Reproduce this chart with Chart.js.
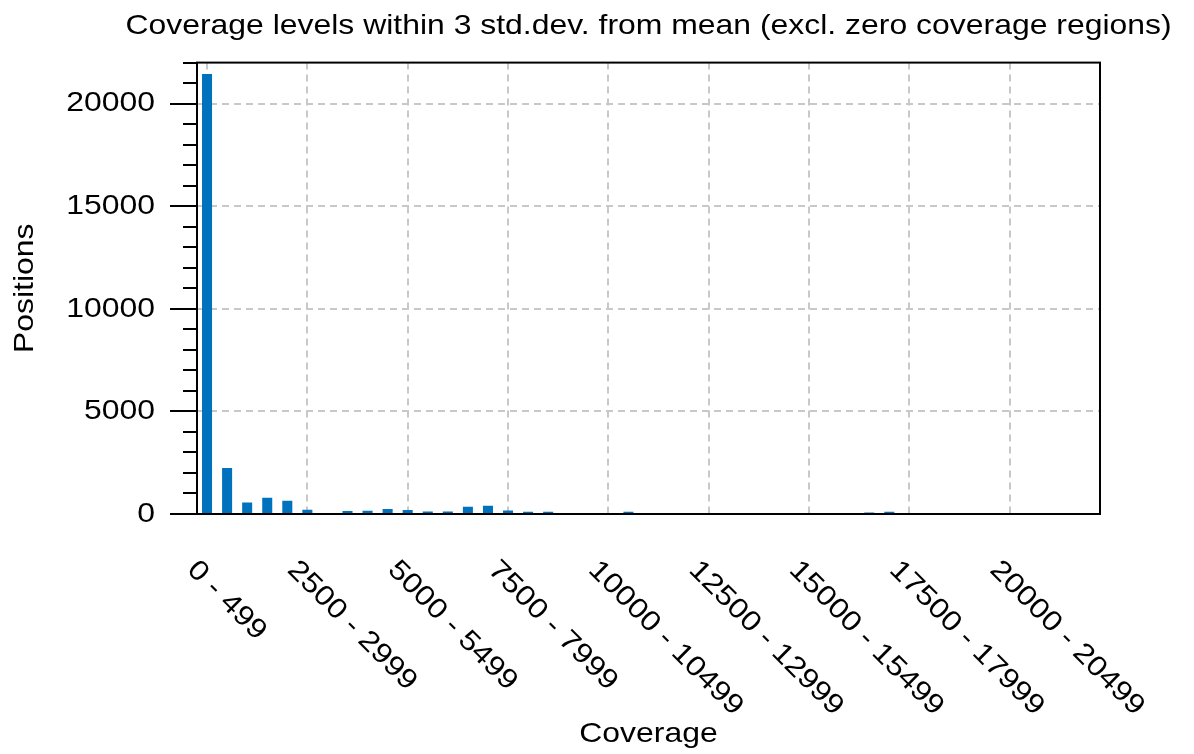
<!DOCTYPE html>
<html>
<head>
<meta charset="utf-8">
<script src="https://cdn.jsdelivr.net/npm/chart.js@4/dist/chart.umd.min.js"></script>
<style>
  body { margin: 0; background: #fff; }
  canvas { display: block; }
</style>
</head>
<body>
<canvas id="chart" width="1194" height="754"></canvas>
<script>
// Coverage bins (500 wide)
const categories = [
    '0 - 499', '500 - 999', '1000 - 1499', '1500 - 1999', '2000 - 2499',
    '2500 - 2999', '3000 - 3499', '3500 - 3999', '4000 - 4499', '4500 - 4999',
    '5000 - 5499', '5500 - 5999', '6000 - 6499', '6500 - 6999', '7000 - 7499',
    '7500 - 7999', '8000 - 8499', '8500 - 8999', '9000 - 9499', '9500 - 9999',
    '10000 - 10499', '10500 - 10999', '11000 - 11499', '11500 - 11999', '12000 - 12499',
    '12500 - 12999', '13000 - 13499', '13500 - 13999', '14000 - 14499', '14500 - 14999',
    '15000 - 15499', '15500 - 15999', '16000 - 16499', '16500 - 16999', '17000 - 17499',
    '17500 - 17999', '18000 - 18499', '18500 - 18999', '19000 - 19499', '19500 - 19999',
    '20000 - 20499', '20500 - 20999', '21000 - 21499', '21500 - 21999', '22000 - 22499'
];

// Number of positions per bin
const positions = [
    21450, 2240, 565, 795, 650,
    210, 0, 145, 160, 245,
    195, 125, 125, 355, 405,
    175, 115, 110, 0, 0,
    0, 110, 0, 0, 0,
    0, 0, 0, 0, 0,
    0, 0, 0, 70, 110,
    0, 0, 0, 0, 0,
    0, 0, 0, 0, 0
];

// y axis ticks
const yTicks = [0, 5000, 10000, 15000, 20000];
const yMinorTicks = [1000, 2000, 3000, 4000, 6000, 7000, 8000, 9000, 11000, 12000,
    13000, 14000, 16000, 17000, 18000, 19000, 21000, 22000];
const yMax = 22000;
const labelEvery = 5;

const FONT = 'Arial, "Liberation Sans", Helvetica, sans-serif';
const FONT_SIZE = 28;
const STRETCH = 1.14; // the original text is drawn wide

// draw all text a bit wider than the font normally is
function stretchText(ctx) {
    const fill = ctx.fillText;
    const measure = ctx.measureText;
    ctx.fillText = function (text, x, y) {
        this.save();
        this.translate(x, y);
        this.scale(STRETCH, 1);
        fill.call(this, text, 0, 0);
        this.restore();
    };
    ctx.measureText = function (text) {
        const m = measure.call(this, text);
        return {
            width: m.width * STRETCH,
            actualBoundingBoxAscent: m.actualBoundingBoxAscent,
            actualBoundingBoxDescent: m.actualBoundingBoxDescent
        };
    };
}

// extra drawing: minor ticks, box frame, rotated x labels
const extras = {
    id: 'extras',
    afterDraw(chart) {
        const { ctx, chartArea, scales: { x, y } } = chart;
        ctx.save();
        ctx.strokeStyle = '#000';
        ctx.lineWidth = 2;
        yMinorTicks.forEach(v => {
            const py = Math.round(y.getPixelForValue(v));
            ctx.beginPath();
            ctx.moveTo(chartArea.left - 14, py);
            ctx.lineTo(chartArea.left, py);
            ctx.stroke();
        });
        ctx.strokeRect(chartArea.left, chartArea.top,
            chartArea.right - chartArea.left, chartArea.bottom - chartArea.top);

        ctx.font = FONT_SIZE + 'px ' + FONT;
        ctx.fillStyle = '#000';
        ctx.textAlign = 'left';
        ctx.textBaseline = 'alphabetic';
        categories.forEach((label, i) => {
            if (i % labelEvery !== 0) return;
            const px = x.getPixelForTick(i);
            ctx.save();
            ctx.translate(px - 21, chartArea.bottom + 57);
            ctx.rotate(Math.PI / 4);
            ctx.fillText(label, 0, 0);
            ctx.restore();
        });
        ctx.restore();
    }
};

Chart.defaults.color = '#000';
Chart.defaults.font.family = FONT;
Chart.defaults.font.size = FONT_SIZE;

const ctx = document.getElementById('chart').getContext('2d');
stretchText(ctx);

const chart = new Chart(ctx, {
    type: 'bar',
    data: {
        labels: categories,
        datasets: [{
            data: positions,
            backgroundColor: '#0072BD',
            borderWidth: 0,
            categoryPercentage: 1.0,
            barPercentage: 0.5
        }]
    },
    options: {
        responsive: false,
        animation: false,
        layout: { padding: { left: 0, right: 94, top: 0, bottom: 0 } },
        plugins: {
            legend: { display: false },
            tooltip: { enabled: false },
            title: {
                display: true,
                fullSize: false,
                text: 'Coverage levels within 3 std.dev. from mean (excl. zero coverage regions)',
                font: { size: FONT_SIZE, weight: 'normal' },
                color: '#000',
                padding: { top: 9, bottom: 20 }
            }
        },
        scales: {
            x: {
                offset: true,
                afterFit(scale) { scale.height = 240; },
                ticks: { display: false, autoSkip: false },
                grid: {
                    offset: false,
                    drawTicks: false,
                    lineWidth: 2,
                    color: (c) => c.index % labelEvery === 0 ? '#c8c8c8' : 'rgba(0,0,0,0)'
                },
                border: { display: true, color: '#000', width: 2, dash: [7, 5] },
                title: {
                    display: true,
                    text: 'Coverage',
                    font: { size: FONT_SIZE },
                    padding: { top: 0, bottom: 3 }
                }
            },
            y: {
                min: 0,
                max: yMax,
                afterFit(scale) { scale.width = 197; },
                afterBuildTicks(scale) { scale.ticks = yTicks.map(v => ({ value: v })); },
                ticks: {
                    padding: 15,
                    callback: (v) => String(v)
                },
                grid: {
                    lineWidth: 2,
                    color: (c) => c.tick && c.tick.value === 0 ? 'rgba(0,0,0,0)' : '#c8c8c8',
                    tickLength: 27,
                    tickColor: '#000',
                    tickWidth: 2,
                    tickBorderDash: []
                },
                border: { display: true, color: '#000', width: 2, dash: [7, 5] },
                title: {
                    display: true,
                    text: 'Positions',
                    font: { size: FONT_SIZE },
                    padding: { top: 8, bottom: 0 }
                }
            }
        }
    },
    plugins: [extras]
});
</script>
</body>
</html>
